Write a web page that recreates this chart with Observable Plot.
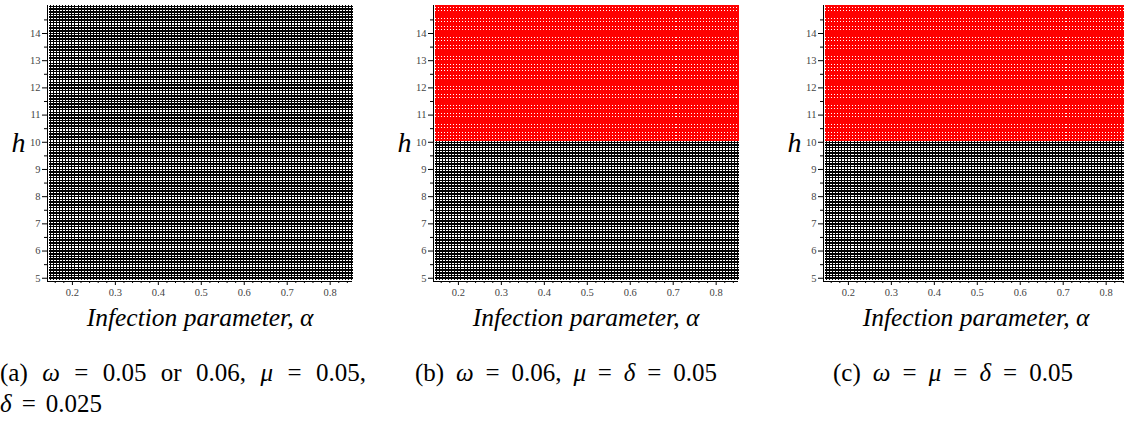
<!DOCTYPE html>
<html>
<head>
<meta charset="utf-8">
<script src="https://cdn.jsdelivr.net/npm/d3@7"></script>
<script src="https://cdn.jsdelivr.net/npm/@observablehq/plot@0.6"></script>
<style>
html,body{margin:0;padding:0;background:#fff;}
#wrap{position:relative;width:1124px;height:431px;overflow:hidden;background:#fff;}
.panel{position:absolute;top:0;}
.panel [aria-label$="tick label"]{fill:#444;}
#captions{position:absolute;left:0;top:0;}
</style>
</head>
<body>
<div id="wrap"></div>
<script>
// ---------- data ----------
// parameter sweep: [start, stop, step]
const alphaSweep = [0.15, 0.85, 0.007];
const hSweep = [5, 15, 0.1];
const panelIds = ["a", "b", "c"];
// h above which the point is plotted red (Infinity = none)
const redAbove = [Infinity, 10, 10];
const regionNames = ["black region", "red region"];
const regionColors = ["#000000", "#ff0000"];
const xTicks = [0.2, 0.3, 0.4, 0.5, 0.6, 0.7, 0.8];
const yTicks = [5, 6, 7, 8, 9, 10, 11, 12, 13, 14];
const xMinorTicks = [0.16,0.18,0.22,0.24,0.26,0.28,0.32,0.34,0.36,0.38,0.42,0.44,0.46,0.48,0.52,0.54,0.56,0.58,0.62,0.64,0.66,0.68,0.72,0.74,0.76,0.78,0.82,0.84];
const yMinorTicks = [5.5, 6.5, 7.5, 8.5, 9.5, 10.5, 11.5, 12.5, 13.5, 14.5];
const xLabel = "Infection parameter, α";
const yLabel = "h";
const captions = [
  ["(a) ω = 0.05 or 0.06, μ = 0.05,", "δ = 0.025"],
  ["(b) ω = 0.06, μ = δ = 0.05"],
  ["(c) ω = μ = δ = 0.05"]
];

// ---------- layout ----------
const serif = "'Liberation Serif', 'Times New Roman', 'DejaVu Serif', serif";
const plotLeft = [47, 433, 823];
const mL = 47, mT = 5, plotW = 305, plotH = 276, mB = 50, mR = 15;
const xDomain = [0.142, 0.852];
const yDomain = [4.88, 15.03];
const captionLayout = [
  [{x: 0, y: 381, w: 366}, {x: 0, y: 412, w: 102}],
  [{x: 415, y: 381, w: 302}],
  [{x: 833, y: 381, w: 240}]
];

// point symbols (plus-shaped boxes, like the plotting program's markers)
function plusBox(hw, hh, vw, vh) {
  return {draw(ctx) {
    ctx.rect(-hw, -hh, 2 * hw, 2 * hh);
    ctx.rect(-vw, -vh, 2 * vw, 2 * vh);
  }};
}
const blackSymbol = plusBox(1.7, 0.75, 0.5, 1.6);
const redSymbol = plusBox(1.7, 1.05, 1.0, 1.6);

// ---------- build grid ----------
const nA = Math.round((alphaSweep[1] - alphaSweep[0]) / alphaSweep[2]) + 1;
const nH = Math.round((hSweep[1] - hSweep[0]) / hSweep[2]) + 1;
const grid = [];
for (let i = 0; i < nA; i++) {
  const alpha = +(alphaSweep[0] + i * alphaSweep[2]).toFixed(4);
  for (let j = 0; j < nH; j++) {
    const h = +(hSweep[0] + j * hSweep[2]).toFixed(4);
    grid.push({alpha, h});
  }
}

const wrap = document.getElementById("wrap");

panelIds.forEach((id, k) => {
  const data = grid.map(d => ({alpha: d.alpha, h: d.h, region: d.h > redAbove[k] ? regionNames[1] : regionNames[0]}));
  const chart = Plot.plot({
    width: mL + plotW + mR,
    height: mT + plotH + mB,
    marginLeft: mL, marginRight: mR, marginTop: mT, marginBottom: mB,
    style: {fontFamily: serif, fontSize: "10.5px", background: "transparent", overflow: "visible"},
    x: {domain: xDomain, axis: null},
    y: {domain: yDomain, axis: null},
    color: {domain: regionNames, range: regionColors},
    marks: [
      Plot.dot(data.filter(d => d.region === regionNames[0]), {x: "alpha", y: "h", fill: "region", symbol: blackSymbol, r: 1.5, shapeRendering: "crispEdges"}),
      Plot.dot(data.filter(d => d.region === regionNames[1]), {x: "alpha", y: "h", fill: "region", symbol: redSymbol, r: 1.5, shapeRendering: "crispEdges"}),
      Plot.ruleY([yDomain[0]], {stroke: "#000"}),
      Plot.ruleX([xDomain[0]], {stroke: "#000"}),
      Plot.axisY({ticks: yTicks, tickSize: 5, tickPadding: 2, label: null, tickFormat: d => String(d)}),
      Plot.axisY({ticks: yMinorTicks, tickSize: 3, label: null, tickFormat: () => ""}),
      Plot.axisX({ticks: xTicks, tickSize: 4, tickPadding: 3, label: null, tickFormat: d => d.toFixed(1)}),
      Plot.axisX({ticks: xMinorTicks, tickSize: 2, label: null, tickFormat: () => ""}),
      Plot.text([xLabel], {frameAnchor: "bottom", dy: 36, lineAnchor: "middle", fontSize: 25.5, fontStyle: "italic", fontFamily: serif, fill: "#000"}),
      Plot.text([yLabel], {frameAnchor: "left", dx: -29, lineAnchor: "middle", textAnchor: "middle", fontSize: 28, fontStyle: "italic", fontFamily: serif, fill: "#000"})
    ]
  });
  chart.classList.add("panel");
  chart.style.left = (plotLeft[k] - mL) + "px";
  wrap.appendChild(chart);
});

// ---------- captions ----------
const cap = d3.select(wrap).append("svg").attr("id", "captions").attr("width", 1124).attr("height", 431);
captions.forEach((lines, k) => {
  lines.forEach((line, j) => {
    const L = captionLayout[k][j];
    const t = cap.append("text")
      .attr("x", L.x).attr("y", L.y)
      .attr("font-family", serif)
      .attr("font-size", 25)
      .attr("fill", "#000");
    line.split(/([ωμδ])/).forEach(part => {
      if (!part) return;
      const s = t.append("tspan").text(part);
      if (/^[ωμδ]$/.test(part)) s.attr("font-style", "italic");
    });
    const natural = t.node().getComputedTextLength();
    const spaces = (line.match(/ /g) || []).length;
    if (spaces > 0 && natural < L.w) t.attr("word-spacing", (L.w - natural) / spaces);
  });
});
</script>
</body>
</html>
